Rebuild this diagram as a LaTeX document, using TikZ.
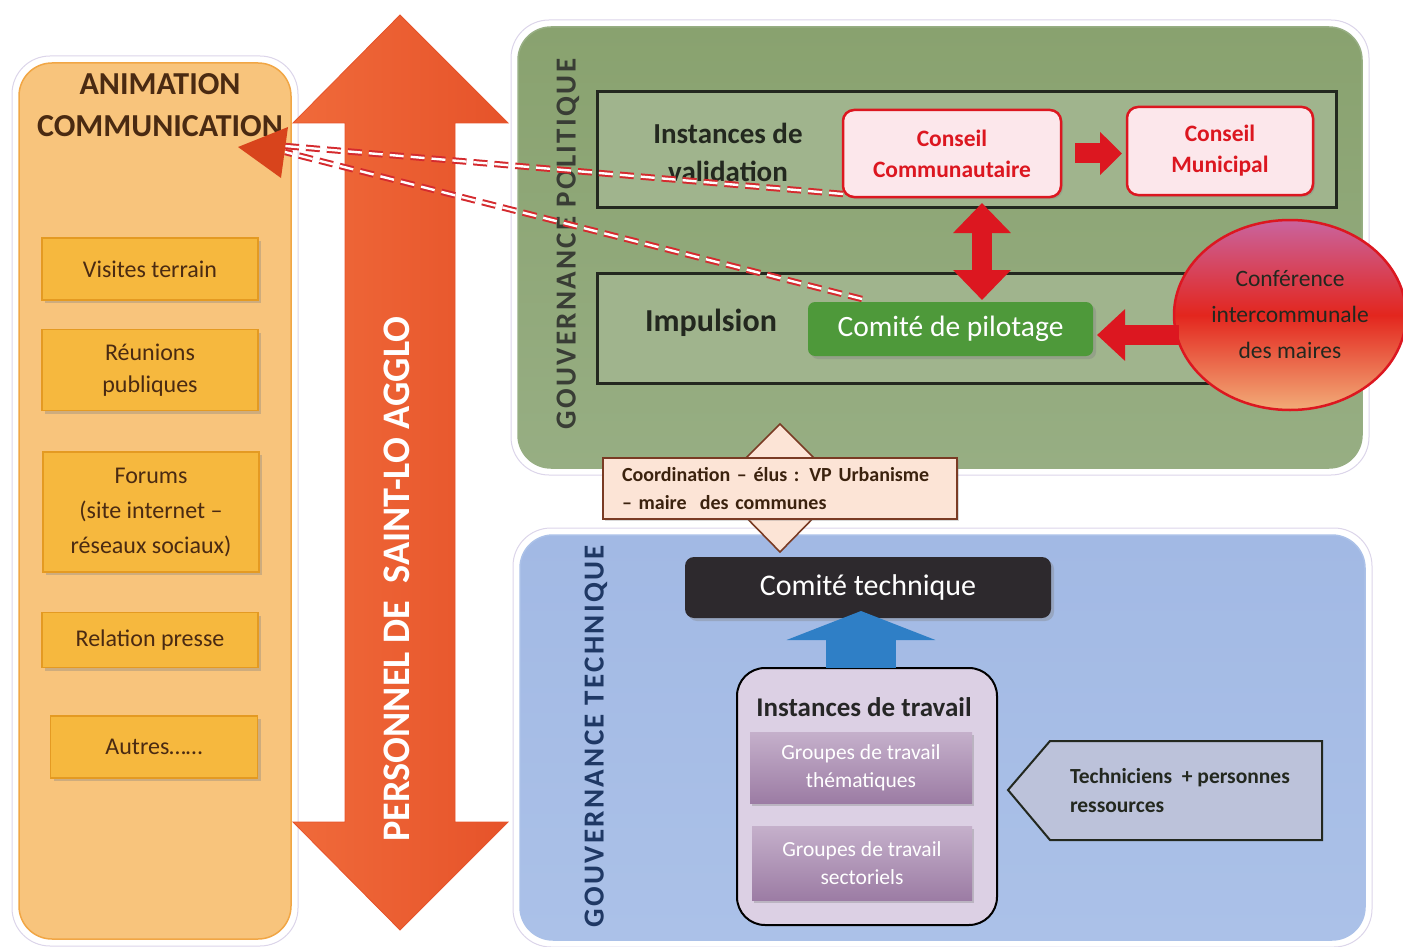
\documentclass[tikz,border=0pt]{standalone}
\usepackage{fontspec}
\setmainfont{Carlito}
\usetikzlibrary{shapes.geometric,arrows.meta,shadows,calc}
\definecolor{cOrPanel}{HTML}{F8C47C}
\definecolor{cOrEdge}{HTML}{F1A645}
\definecolor{cItem}{HTML}{F6B83E}
\definecolor{cItemD}{HTML}{E49A22}
\definecolor{cBrown}{HTML}{4A2A12}
\definecolor{cBig}{HTML}{E6532A}
\definecolor{cBigL}{HTML}{F06A3A}
\definecolor{cGreen}{HTML}{97AE83}
\definecolor{cGreenT}{HTML}{89A26F}
\definecolor{cGreenIn}{HTML}{A0B48D}
\definecolor{cDark}{HTML}{23281F}
\definecolor{cRed}{HTML}{DC1720}
\definecolor{cPink}{HTML}{FCE7EB}
\definecolor{cPilot}{HTML}{4E993A}
\definecolor{cBlue}{HTML}{ABC1E8}
\definecolor{cBlueT}{HTML}{A2B9E4}
\definecolor{cNavy}{HTML}{1F3864}
\definecolor{cTech}{HTML}{2D292D}
\definecolor{cArrowBlue}{HTML}{2F7FC6}
\definecolor{cLav}{HTML}{DCD0E4}
\definecolor{cGrpT}{HTML}{C5B0CB}
\definecolor{cGrpB}{HTML}{9C7CA4}
\definecolor{cTechn}{HTML}{BCC2DA}
\definecolor{cPeach}{HTML}{FCE4D6}
\definecolor{cPeachD}{HTML}{7A3B24}
\definecolor{cGlow}{HTML}{DCD5EA}
\definecolor{cConfT}{HTML}{C9649E}
\definecolor{cConfM}{HTML}{E3261E}
\definecolor{cConfB}{HTML}{F2AC78}
\definecolor{cHead}{HTML}{D8441C}
\definecolor{cDash}{HTML}{D42A2E}
\begin{document}
\begin{tikzpicture}[x=1pt,y=-1pt,
  every node/.style={inner sep=0pt, outer sep=0pt},
  glow/.style={draw=cGlow, fill=white, line width=1pt, rounded corners=38pt},
  panel/.style={rounded corners=33pt, line width=1.5pt},
  item/.style={fill=cItem, draw=cItemD, line width=1.2pt, minimum width=216pt,
    drop shadow={opacity=0.35,shadow xshift=3pt,shadow yshift=-3pt},
    text=cBrown, font=\fontsize{24}{32}\selectfont, align=center},
  inbox/.style={draw=cDark, line width=3pt, fill=cGreenIn},
  conseil/.style={fill=cPink, draw=cRed, line width=2.5pt, rounded corners=11pt,
    text=cRed, font=\bfseries\fontsize{23.5}{31}\selectfont, align=center,
    drop shadow={opacity=0.3,shadow xshift=2pt,shadow yshift=-2pt}},
  redarrow/.style={draw=cRed, line width=20pt},
  dbl/.style={draw=cDash, line width=2pt, double=white, double distance=2.4pt,
    dash pattern=on 14pt off 7pt},
  grp/.style={top color=cGrpT, bottom color=cGrpB, draw=none, minimum width=222pt,
    text=white, font=\fontsize{21.5}{28}\selectfont, align=center,
    drop shadow={opacity=0.35,shadow xshift=2pt,shadow yshift=-3pt}},
  vtitle/.style={rotate=90, font=\bfseries\fontsize{29}{30}\selectfont\addfontfeatures{LetterSpace=8}}
]
\useasboundingbox (0,0) rectangle (1403,947);

% ---------- left panel ----------
\node[glow, minimum width=286pt, minimum height=890pt] (animglow) at (155,501) {};
\node[panel, fill=cOrPanel, draw=cOrEdge, minimum width=272pt, minimum height=876pt] (anim) at (155,501) {};
\node[text=cBrown, font=\bfseries\fontsize{32}{42}\selectfont, align=center] (animtitle) at (160,105) {ANIMATION\\COMMUNICATION};

\node[item, minimum height=62pt] (visites) at (150,269) {Visites terrain};
\node[item, minimum height=81pt] (reunions) at (150,370) {Réunions\\publiques};
\node[item, minimum height=120pt, font=\fontsize{24}{35}\selectfont] (forums) at (151,512) {Forums\\(site internet –\\réseaux sociaux)};
\node[item, minimum height=55pt] (presse) at (150,640) {Relation presse};
\node[item, minimum height=62pt, minimum width=207pt] (autres) at (154,747) {Autres……};

% ---------- big double arrow ----------
\path[left color=cBigL, right color=cBig, draw=cBig, line width=0.8pt]
  (400,15) -- (508,123) -- (455,123) -- (455,822) -- (508,822) -- (400,930)
  -- (293,822) -- (345,822) -- (345,123) -- (293,123) -- cycle;
\node[rotate=90, text=white, font=\bfseries\fontsize{39}{40}\selectfont] (personnel) at (397,579)
  {\scalebox{0.98}[1]{PERSONNEL DE\ \ SAINT-LO AGGLO}};

% ---------- green panel ----------
\node[glow, minimum width=858pt, minimum height=455pt] (polglow) at (940,247.5) {};
\node[panel, top color=cGreenT, bottom color=cGreen, draw=cGreen, minimum width=844pt, minimum height=441pt] (pol) at (940,247.5) {};
\node[inbox, minimum width=739pt, minimum height=115pt] (valid) at (966.5,149.5) {};
\node[inbox, minimum width=739pt, minimum height=110pt] (impuls) at (966.5,328) {};
\node[vtitle, text=cDark!90] (poltitle) at (568,244) {GOUVERNANCE POLITIQUE};

\node[text=cDark, font=\bfseries\fontsize{29}{38}\selectfont, align=center] (validtxt) at (728,152) {Instances de\\validation};
\node[text=cDark, font=\bfseries\fontsize{32}{34}\selectfont] (impulstxt) at (711,323) {Impulsion};

\node[conseil, minimum width=218pt, minimum height=87pt] (cc) at (952,153.5) {Conseil\\Communautaire};
\node[conseil, minimum width=186pt, minimum height=88pt] (cm) at (1220,151) {Conseil\\Municipal};
\draw[redarrow, -{Triangle[length=22pt,width=42pt]}, shorten <=14pt, shorten >=5pt] (cc.east) -- (cc.east -| cm.west);

\node[fill=cPilot, rounded corners=7pt, minimum width=285pt, minimum height=54pt, text=white,
  font=\fontsize{29.5}{32}\selectfont, drop shadow={opacity=0.35,shadow xshift=3pt,shadow yshift=-3pt}] (pil) at (950.5,329) {Comité de pilotage};

\draw[redarrow, {Triangle[length=30pt,width=56pt]}-{Triangle[length=30pt,width=56pt]}]
  ($(cc.south)+(30,6)$) -- ($(pil.north)+(31.5,-2)$);

\node[ellipse, minimum width=232pt, minimum height=190pt, draw=cRed, line width=2.5pt,
  top color=cConfT, bottom color=cConfB, middle color=cConfM,
  text=cDark, font=\fontsize{23.5}{36}\selectfont, align=center] (conf) at (1290,315)
  {Conférence\\intercommunale\\des maires};
\draw[redarrow, -{Triangle[length=28pt,width=50pt]}] ($(conf.west)+(5,20)$) -- ($(pil.east)+(4,6)$);

% ---------- dashed links to animation ----------
\coordinate (ah1) at (285,146);
\coordinate (ah2) at (285,152);
\draw[dbl] ($(cc.south west)+(0,-3)$) -- (ah1);
\draw[dbl] ($(pil.north west)+(54,-3)$) -- (ah2);
\coordinate (ahtip) at (238,147);
\fill[cHead] (ahtip) -- (288,127) -- (281,178) -- cycle;

% ---------- blue panel ----------
\node[glow, minimum width=859pt, minimum height=419pt] (techglow) at (942.5,737.5) {};
\node[panel, top color=cBlueT, bottom color=cBlue, draw=cBlue, minimum width=845pt, minimum height=405pt] (techp) at (942.5,737.5) {};
\node[vtitle, text=cNavy] (techtitle) at (596,736) {GOUVERNANCE TECHNIQUE};

% ---------- coordination ----------
\path[fill=cPeach, draw=cPeachD, line width=1.6pt]
  (780,424) -- (826,470) -- (800,470) -- (800,505) -- (826,505) -- (780,552)
  -- (734,505) -- (760,505) -- (760,470) -- (734,470) -- cycle;
\node[fill=cPeach, draw=cPeachD, line width=2pt, minimum width=354pt, minimum height=61pt,
  text width=340pt, align=left, text=cBrown!80!black, font=\bfseries\fontsize{20}{28}\selectfont,
  drop shadow={opacity=0.3,shadow xshift=2pt,shadow yshift=-2pt}] (coord) at (780,488.5)
  {\hspace*{12pt}Coordination – élus : VP Urbanisme\\\hspace*{12pt}– maire\ \ des communes};

% ---------- technique ----------
\node[fill=cTech, rounded corners=9pt, minimum width=366pt, minimum height=61pt, text=white,
  font=\fontsize{30}{32}\selectfont, drop shadow={opacity=0.35,shadow xshift=3pt,shadow yshift=-3pt}] (ctech) at (868,587.5) {Comité technique};

\node[fill=cLav, draw=black, line width=2pt, rounded corners=28pt, minimum width=260pt, minimum height=257pt] (trav) at (867,796.5) {};
\node[text=black!85, font=\bfseries\fontsize{27}{30}\selectfont] (travtitle) at (864,707) {Instances de travail};
\node[grp, minimum height=71pt] (grp1) at (861,767.5) {Groupes de travail\\thématiques};
\node[grp, minimum height=74pt, minimum width=220pt] (grp2) at (862,863) {Groupes de travail\\sectoriels};

\draw[draw=cArrowBlue, line width=70pt, -{Triangle[length=29pt,width=148pt]}] (trav.north -| 861,0) -- ($(ctech.south)+(-7,-7)$);

% ---------- techniciens ----------
\coordinate (tn) at (1008,790);
\path[fill=cTechn, draw=cDark, line width=2pt] (tn) -- (1050,741) -- (1322,741) -- (1322,840) -- (1050,840) -- cycle;
\node[text=cDark, font=\bfseries\fontsize{21.5}{29}\selectfont, align=left, anchor=west] (techn) at (1070,791)
  {Techniciens\ \ + personnes\\ressources};
\end{tikzpicture}
\end{document}
